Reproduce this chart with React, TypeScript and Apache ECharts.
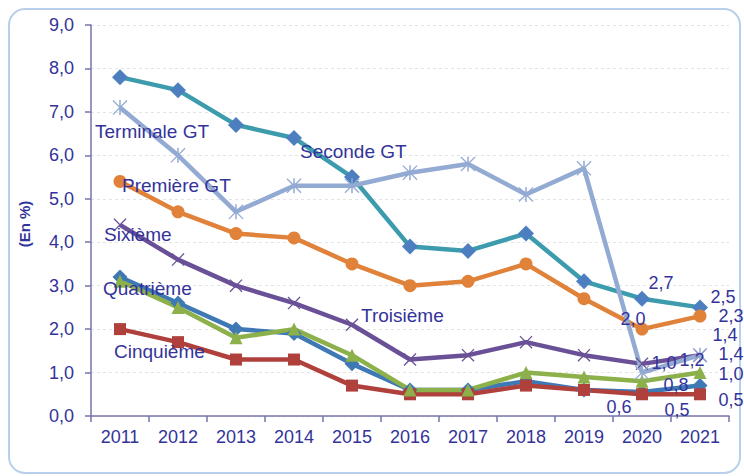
import React, { useEffect, useRef } from 'react';
import * as echarts from 'echarts';

const years = ['2011', '2012', '2013', '2014', '2015', '2016', '2017', '2018', '2019', '2020', '2021'];
const yTicks = [0, 1, 2, 3, 4, 5, 6, 7, 8, 9];

const seconde = [7.8, 7.5, 6.7, 6.4, 5.5, 3.9, 3.8, 4.2, 3.1, 2.7, 2.5];
const terminale = [7.1, 6.0, 4.7, 5.3, 5.3, 5.6, 5.8, 5.1, 5.7, 1.0, 1.4];
const premiere = [5.4, 4.7, 4.2, 4.1, 3.5, 3.0, 3.1, 3.5, 2.7, 2.0, 2.3];
const sixieme = [4.4, 3.6, 3.0, 2.6, 2.1, 1.3, 1.4, 1.7, 1.4, 1.2, 1.4];
const quatrieme = [3.2, 2.6, 2.0, 1.9, 1.2, 0.6, 0.6, 0.8, 0.6, 0.55, 0.7];
const troisieme = [3.1, 2.5, 1.8, 2.0, 1.4, 0.6, 0.6, 1.0, 0.9, 0.8, 1.0];
const cinquieme = [2.0, 1.7, 1.3, 1.3, 0.7, 0.5, 0.5, 0.7, 0.6, 0.5, 0.5];

const FONT = '"Liberation Sans", Arial, sans-serif';
const TXT = '#33339a';

const fmt = (v: number) => v.toFixed(1).replace('.', ',');

const ASTER = 'path://M0 6 L6 0 L100 94 L94 100 Z M94 0 L100 6 L6 100 L0 94 Z M45 0 L55 0 L55 100 L45 100 Z';
const XMARK = 'path://M0 7 L7 0 L100 93 L93 100 Z M93 0 L100 7 L7 100 L0 93 Z';

// label offsets for data labels (index -> [dx, dy] from point centre)
type Offs = { [k: number]: [number, number] };

function mkSeries(name: string, values: number[], line: string, sym: string, symbol: string, size: number | number[], offs: Offs) {
  return {
    name,
    type: 'line',
    data: values.map((v, i) =>
      offs[i]
        ? {
            value: v,
            label: {
              show: true,
              position: 'inside',
              offset: offs[i],
              formatter: () => fmt(v),
              color: TXT,
              fontSize: 18,
              lineHeight: 18,
              fontFamily: FONT,
              textBorderWidth: 0,
              align: 'center',
              verticalAlign: 'middle',
            },
          }
        : v
    ),
    symbol,
    symbolSize: size,
    showAllSymbol: true,
    lineStyle: { color: line, width: 4.5 },
    itemStyle: { color: sym, borderWidth: 0 },
    label: { show: false },
    emphasis: { disabled: true },
  };
}

const option = {
  animation: false,
  grid: { left: 91, right: 15, top: 25, bottom: 60, containLabel: false },
  xAxis: {
    type: 'category',
    data: years,
    boundaryGap: true,
    axisLine: { show: true, lineStyle: { color: '#7575aa', width: 1.5 } },
    axisTick: { show: true, length: 6, alignWithLabel: false, lineStyle: { color: '#7575aa', width: 1.5 } },
    axisLabel: { color: TXT, fontSize: 18, fontFamily: FONT, margin: 12 },
    splitLine: { show: false },
  },
  yAxis: {
    type: 'value',
    min: yTicks[0],
    max: yTicks[yTicks.length - 1],
    interval: 1,
    axisLine: { show: true, lineStyle: { color: '#7575aa', width: 1.5 } },
    axisTick: { show: true, length: 6, lineStyle: { color: '#7575aa', width: 1.5 } },
    axisLabel: { color: TXT, fontSize: 18, fontFamily: FONT, margin: 17, formatter: (v: number) => fmt(v) },
    splitLine: { show: true, lineStyle: { color: '#e4e4e4', type: [3, 3], width: 1 } },
  },
  series: [
    mkSeries('Seconde GT', seconde, '#3c9bad', '#4d7fc0', 'diamond', 16, { 9: [19, -16], 10: [23, -10] }),
    mkSeries('Première GT', premiere, '#e0823a', '#e0823a', 'circle', 13, { 9: [-9, -10], 10: [31, 0] }),
    mkSeries('Sixième', sixieme, '#6a5197', '#6a5197', XMARK, 13, { 9: [50, -4], 10: [25, -20] }),
    mkSeries('Quatrième', quatrieme, '#3e78b5', '#3e78b5', 'diamond', 15, { 9: [-23, 15] }),
    mkSeries('Cinquième', cinquieme, '#b0403c', '#b0403c', 'rect', 12, { 9: [35, 16], 10: [31, 6] }),
    mkSeries('Troisième', troisieme, '#8cb04a', '#8cb04a', 'triangle', 13, { 9: [34, 4], 10: [31, 1] }),
    mkSeries('Terminale GT', terminale, '#93aad2', '#93aad2', ASTER, 15, { 9: [22, -10], 10: [31, -1] }),
  ],
  graphic: [
    {
      type: 'rect',
      shape: { x: 9, y: 9, width: 731, height: 464, r: 16 },
      style: { fill: 'none', stroke: '#b9d0ea', lineWidth: 2 },
      silent: true,
      z: -10,
    },
    {
      type: 'text',
      x: 24,
      y: 224,
      rotation: Math.PI / 2,
      style: { text: '(En %)', fill: TXT, font: `bold 15px ${FONT}`, align: 'center', verticalAlign: 'middle' },
    },
    ...[
      ['Terminale GT', 95, 131],
      ['Seconde GT', 300, 151],
      ['Première GT', 122, 185],
      ['Sixième', 104, 234],
      ['Quatrième', 103, 288],
      ['Cinquième', 114, 351],
      ['Troisième', 361, 315],
    ].map(([t, x, y]) => ({
      type: 'text',
      x,
      y,
      z: 100,
      style: { text: t, fill: TXT, font: `19px ${FONT}`, align: 'left', verticalAlign: 'middle' },
    })),
  ],
};

export default function App() {
  const ref = useRef<HTMLDivElement>(null);
  useEffect(() => {
    const chart = echarts.init(ref.current!, null, { renderer: 'svg' });
    chart.setOption(option as any);
    return () => chart.dispose();
  }, []);
  return (
    <div
      ref={ref}
      style={{ position: 'absolute', left: 0, top: 0, width: 744, height: 476, background: '#fff' }}
    />
  );
}
